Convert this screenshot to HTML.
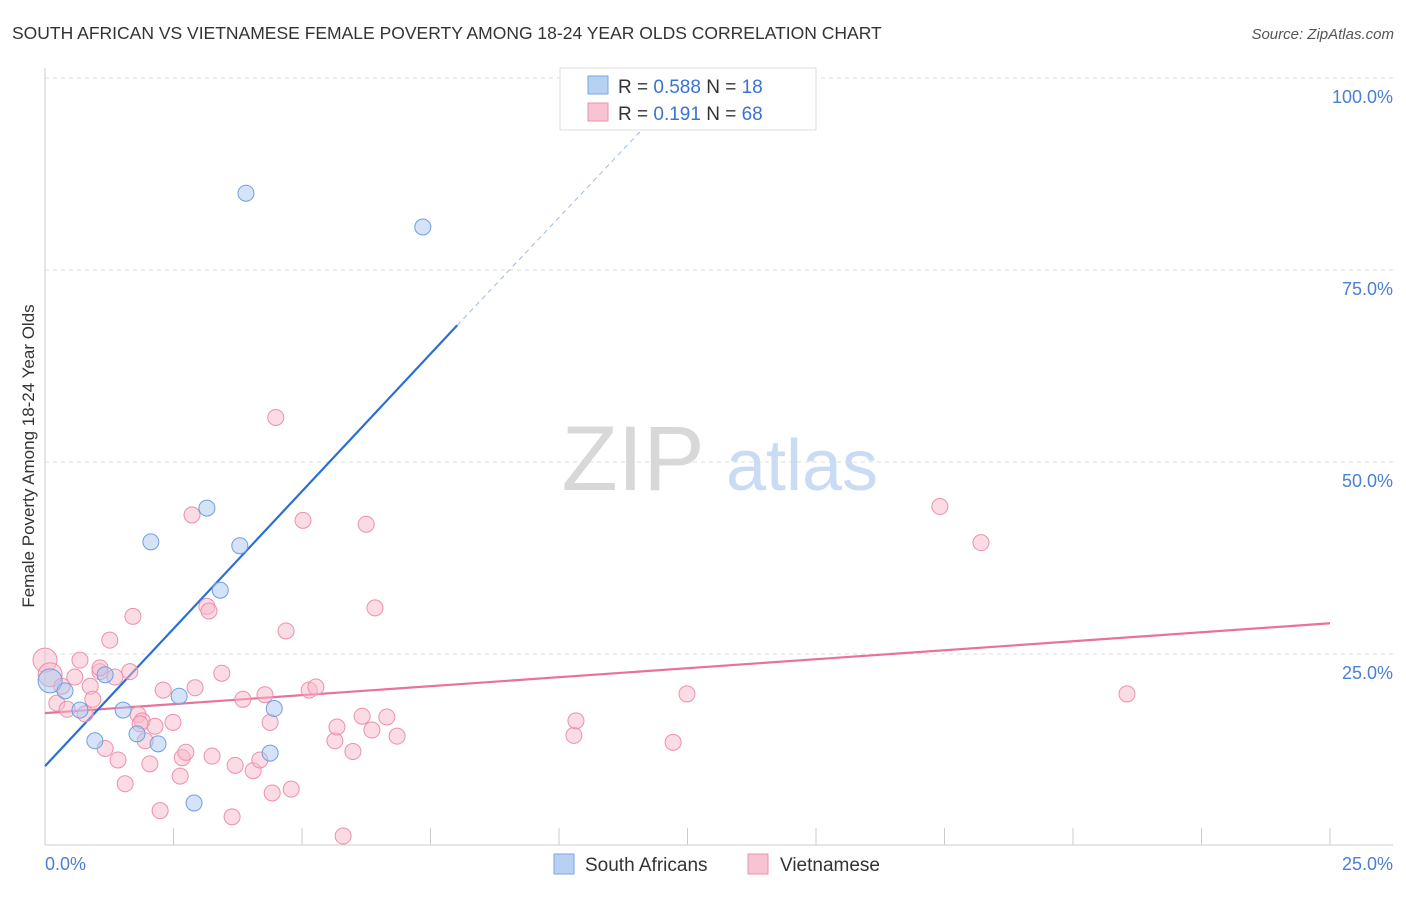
<!DOCTYPE html>
<html><head><meta charset="utf-8"><style>
body{margin:0;background:#fff;font-family:"Liberation Sans",sans-serif;}
svg text{font-family:"Liberation Sans",sans-serif;}
</style></head><body>
<svg id="chart" width="1406" height="892" xmlns="http://www.w3.org/2000/svg">
<text x="12" y="39" font-size="17.5" fill="#333">SOUTH AFRICAN VS VIETNAMESE FEMALE POVERTY AMONG 18-24 YEAR OLDS CORRELATION CHART</text>
<text x="1394" y="39" font-size="15" fill="#555" text-anchor="end" font-style="italic">Source: ZipAtlas.com</text>
<g id="grid"></g>
<g>
<text x="633" y="490" font-size="92" fill="#d8d8d8" font-family="Liberation Serif,serif" text-anchor="middle">ZIP</text>
<text x="802" y="490" font-size="72" fill="#c9dcf3" text-anchor="middle">atlas</text>
</g>
<line x1="45" y1="68" x2="45" y2="845" stroke="#ccc"/>
<line x1="45" y1="845" x2="1393" y2="845" stroke="#ccc"/>
<g id="xticks"></g>
<g id="yticks"></g>
<text x="45" y="870" font-size="18" fill="#4a7fd4">0.0%</text>
<text x="1393" y="870" font-size="18" fill="#4a7fd4" text-anchor="end">25.0%</text>
<text transform="translate(34,456) rotate(-90)" font-size="17" fill="#333" text-anchor="middle">Female Poverty Among 18-24 Year Olds</text>
<g id="trends"></g>
<g id="points"></g>
<g>
<rect x="560" y="68" width="256" height="62" fill="#fff" stroke="#ddd"/>
<rect x="588" y="76" width="20" height="18" fill="#b7d1f3" stroke="#7aa6e0"/>
<rect x="588" y="103" width="20" height="18" fill="#f8c3d3" stroke="#ee8fab"/>
<text x="618" y="93" font-size="19" fill="#333">R = <tspan fill="#3a73d0">0.588</tspan>   N =  <tspan fill="#3a73d0">18</tspan></text>
<text x="618" y="120" font-size="19" fill="#333">R =  <tspan fill="#3a73d0">0.191</tspan>   N = <tspan fill="#3a73d0">68</tspan></text>
</g>
<g>
<rect x="554" y="854" width="20" height="20" fill="#b7d1f3" stroke="#7aa6e0"/>
<text x="585" y="871" font-size="19" fill="#333">South Africans</text>
<rect x="748" y="854" width="20" height="20" fill="#f8c3d3" stroke="#ee8fab"/>
<text x="780" y="871" font-size="19" fill="#333">Vietnamese</text>
</g>
</svg>
<script>
const yTicks=[25,50,75,100];
const yTickLabels=["25.0%","50.0%","75.0%","100.0%"];
const xTicks=[2.5,5,7.5,10,12.5,15,17.5,20,22.5,25];
const saX=[0.1,0.39,0.68,0.97,1.17,1.52,1.79,2.06,2.2,2.61,2.9,3.15,3.41,3.79,3.91,4.38,4.46,7.35];
const saY=[21.5,20.2,17.7,13.7,22.3,17.7,14.6,39.6,13.3,19.5,5.6,44.0,33.3,39.1,85.0,12.1,17.9,80.6];
const viX=[0,0.1,0.23,0.33,0.43,0.58,0.68,0.78,0.88,0.93,1.07,1.17,1.26,1.36,1.42,1.56,1.65,1.71,1.81,1.89,1.95,2.04,2.14,2.24,2.3,2.49,2.63,2.67,2.74,2.86,2.92,3.15,3.19,3.25,3.44,3.64,3.7,3.85,4.05,4.18,4.28,4.38,4.42,4.49,4.69,4.79,5.02,5.14,5.27,5.64,5.68,5.8,5.99,6.17,6.25,6.36,6.42,6.65,6.85,10.29,10.33,12.22,12.49,17.41,18.21,21.05,1.07,1.85];
const viY=[24.2,22.3,18.6,20.8,17.8,22.0,24.2,17.2,20.8,19.1,22.7,12.7,26.8,22.0,11.2,8.1,22.7,29.9,17.1,16.3,13.7,10.7,15.6,4.6,20.3,16.1,9.1,11.5,12.2,43.1,20.6,31.2,30.6,11.7,22.5,3.8,10.5,19.1,9.8,11.2,19.7,16.1,6.9,55.8,28.0,7.4,42.4,20.3,20.7,13.7,15.5,1.3,12.3,16.9,41.9,15.1,31.0,16.8,14.3,14.4,16.3,13.5,19.8,44.2,39.5,19.8,23.2,15.9];
const saTrend=[[0,10.4],[8.02,67.8]];
const saTrendExt=[[8.02,67.8],[11.9,95.3]];
const viTrend=[[0,17.3],[25,29.0]];
const X=v=>45+v*51.4, Y=v=>846-v*7.68;
const NS="http://www.w3.org/2000/svg";
function mk(tag,attrs,parent){const e=document.createElementNS(NS,tag);for(const k in attrs)e.setAttribute(k,attrs[k]);document.getElementById(parent).appendChild(e);return e;}
yTicks.forEach((t,i)=>{
 const l=mk('line',{x1:45,x2:1393,y1:Y(t),y2:Y(t),stroke:'#ddd','stroke-dasharray':'4,4'},'grid');
 
 
 const tx=mk('text',{x:1393,y:Y(t)+25,'font-size':18,fill:'#4a7fd4','text-anchor':'end'},'yticks');
 tx.textContent=yTickLabels[i];
 
 
});
xTicks.forEach(t=>{
 const l=mk('line',{x1:X(t),x2:X(t),y1:828,y2:845,stroke:'#ccc'},'xticks');
 
 
});
function line(seg,color,dash,name){
 const l=mk('line',{x1:X(seg[0][0]),y1:Y(seg[0][1]),x2:X(seg[1][0]),y2:Y(seg[1][1]),stroke:color,'stroke-width':dash?1:2.2},'trends');
 if(dash)l.setAttribute('stroke-dasharray','5,4');
 
 
}
function pts(xs,ys,fill,stroke,name){
 xs.forEach((x,i)=>{
  const r=(x<0.2)?12:8;
  const c=mk('circle',{cx:X(x),cy:Y(ys[i]),r:r,fill:fill,'fill-opacity':0.5,stroke:stroke,'stroke-width':1},'points');
  
  
 });
}
pts(viX,viY,'#f8b9cc','#ee8fab','vietnamese-point');
pts(saX,saY,'#aac8f0','#6f9fe0','south-african-point');
line(viTrend,'#e8729a',false,'vietnamese-trend-line');
line(saTrend,'#2a6fd6',false,'south-african-trend-line');
line(saTrendExt,'#9bbbe6',true,'south-african-trend-extension');
</script>
</body></html>
